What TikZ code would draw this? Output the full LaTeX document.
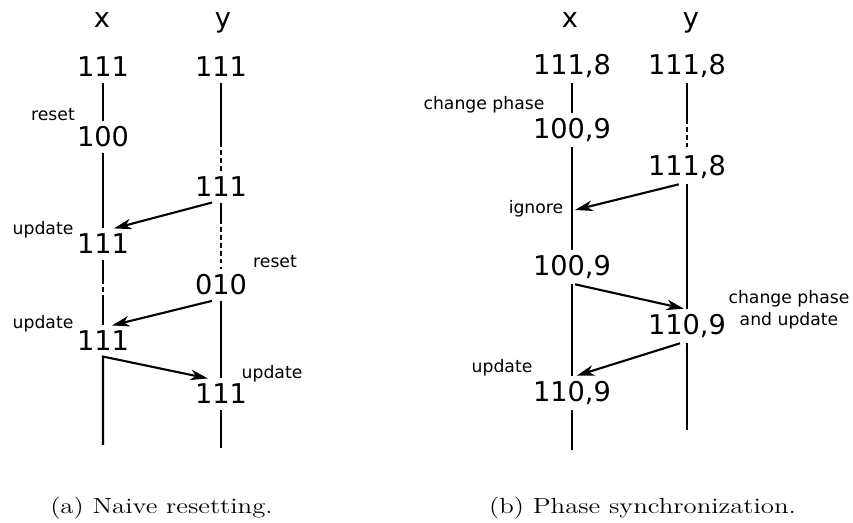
\documentclass[tikz,border=0pt]{standalone}
\usepackage{graphicx}
\usepackage{fontspec}
\newfontfamily\dejavu{DejaVu Sans}
\usepackage{tikz}
\usetikzlibrary{arrows.meta}

\tikzset{
  num/.style={font=\dejavu\fontsize{15.5}{18}\selectfont, inner sep=3pt},
  lbl/.style={font=\dejavu\fontsize{9.8}{12.5}\selectfont, inner sep=0pt, align=center},
  tl/.style={line width=1.2pt},
  gap/.style={line width=1.2pt, dash pattern=on 2.5pt off 2pt},
  msg/.style={line width=1.2pt, -{Stealth[length=10pt,width=6pt,inset=3pt]}},
  captext/.style={inner sep=0pt}
}
\newcommand{\subcap}[1]{\scalebox{1.22}[1]{\fontsize{12.5}{14}\selectfont #1}}

\begin{document}
\begin{tikzpicture}[x=0.02cm,y=-0.02cm]
\useasboundingbox (0,0) rectangle (853,523);

% --- naive resetting ---
\node[num,anchor=base] (ax) at (102,28) {x};
\node[num,anchor=base] (ay) at (223,28) {y};

\node[num] (a1) at (103,67) {111};
\node[num] (a2) at (103,137) {100};
\node[num] (a3) at (103,244) {111};
\node[num] (a4) at (103,341) {111};
\coordinate (aend) at (103,445);

\node[num] (b1) at (221,67) {111};
\node[num] (b2) at (221,187) {111};
\node[num] (b3) at (221,285) {010};
\node[num] (b4) at (221,394) {111};
\coordinate (bend) at (221,448);

\node[lbl] (r1) at (53,115) {reset};
\node[lbl] (u1) at (43,230) {update};
\node[lbl] (r2) at (275,262) {reset};
\node[lbl] (u2) at (43,324) {update};
\node[lbl] (u3) at (272,374) {update};

% time lines of x
\draw[tl] (a1.south) -- (a2.north);
\draw[tl] (a2.south) -- (a3.north);
\draw[tl] (a3.south) -- ++(0,20) coordinate (a3m);
\draw[gap] (a3m) -- ++(0,20) coordinate (a3n);
\draw[tl] (a3n) -- (a4.north);

% time lines of y
\draw[tl] (b1.south) -- ++(0,60) coordinate (b1m);
\draw[gap] (b1m) -- (b2.north);
\draw[tl] (b2.south) -- ++(0,17) coordinate (b2m);
\draw[gap] (b2m) -- (b3.north);
\draw[tl] (b3.south) -- (b4.north);
\draw[tl] (b4.south) -- (bend);

% messages
\draw[msg] (b2.240) -- (a3.55);
\draw[msg] (b3.240) -- (a4.60);
\draw[msg] (aend) -- (a4.south) -- (b4.130);

\node[captext] (capa) at (161.5,508) {\subcap{(a) Naive resetting.}};

% --- phase synchronization ---
\node[num,anchor=base] (px) at (570,28) {x};
\node[num,anchor=base] (py) at (691,28) {y};

\node[num] (p1) at (572,66) {111,8};
\node[num] (p2) at (572,130) {100,9};
\node[num] (p3) at (572,267) {100,9};
\node[num] (p4) at (572,393) {110,9};
\coordinate (pend) at (572,450);
\coordinate (ign) at (575,210);

\node[num] (q1) at (687,66) {111,8};
\node[num] (q2) at (687,167) {111,8};
\node[num] (q3) at (687,326) {110,9};
\coordinate (qend) at (687,430);

\node[lbl] (c1) at (484,105) {change phase};
\node[lbl] (ig) at (536,209) {ignore};
\node[lbl] (c2) at (789,310) {change phase\\and update};
\node[lbl] (u4) at (502,368) {update};

\draw[tl] (p1.south) -- (p2.north);
\draw[tl] (p2.south) -- (p3.north);
\draw[tl] (p3.south) -- (p4.north);
\draw[tl] (p4.south) -- (pend);

\draw[tl] (q1.south) -- ++(0,36) coordinate (q1m);
\draw[gap] (q1m) -- (q2.north);
\draw[tl] (q2.south) -- (q3.north);
\draw[tl] (q3.south) -- (qend);

\draw[msg] (q2.245) -- (ign);
\draw[msg] (p3.-80) -- (q3.100);
\draw[msg] (q3.248) -- (p4.75);

\node[captext] (capb) at (642.5,508) {\subcap{(b) Phase synchronization.}};
\end{tikzpicture}
\end{document}
